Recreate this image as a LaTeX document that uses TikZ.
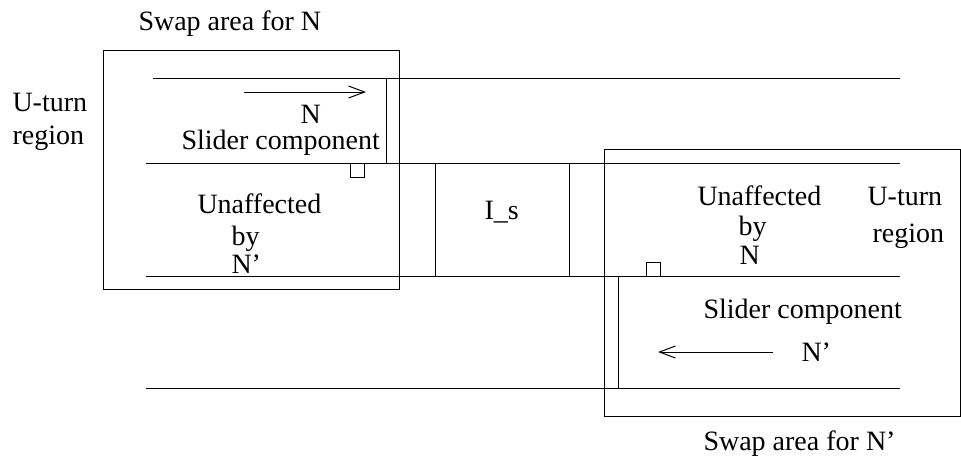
\documentclass[tikz,border=0pt]{standalone}
\usepackage{fontspec}
\setmainfont{Liberation Serif}
\usetikzlibrary{arrows.meta}

\begin{document}
\begin{tikzpicture}[x=0.5pt,y=-0.5pt,line width=0.5pt,
    lbl/.style={anchor=base west,inner sep=0pt,font=\fontsize{14}{16}\selectfont},
    move/.style={-{Straight Barb[length=8pt,width=6pt]}}]
  \useasboundingbox (0,0) rectangle (961,468);

  % the two swap areas
  \draw (103,50) rectangle (399,289);
  \draw (604,149) rectangle (960.5,416);

  % lanes
  \draw (153,78) -- (900,78);
  \draw (146,163) -- (900,163);
  \draw (146,276) -- (900,276);
  \draw (146,388) -- (900,388);

  % separators
  \draw (386,78) -- (386,163);
  \draw (435,163) -- (435,276);
  \draw (569,163) -- (569,276);
  \draw (618,276) -- (618,388);

  % small markers
  \draw (350,163) rectangle (364,177);
  \draw (646,262) rectangle (660,276);

  % labels
  \node[lbl] (swapN)  at (138,30)  {Swap area for N};
  \node[lbl] (uturnL) at (12,111)  {U-turn};
  \node[lbl] (regL)   at (12,144)  {region};
  \node[lbl] (nL)     at (300,123) {N};
  \node[lbl] (sliderL) at (181,149) {Slider component};
  \node[lbl] (unaffL) at (197,213) {Unaffected};
  \node[lbl] (byL)    at (231,245) {by};
  \node[lbl] (npL)    at (231,273) {N'};
  \node[lbl] (is)     at (484,219) {I\_s};
  \node[lbl] (unaffR) at (697,205) {Unaffected};
  \node[lbl] (byR)    at (738,235) {by};
  \node[lbl] (nR)     at (739,264) {N};
  \node[lbl] (uturnR) at (867,205) {U-turn};
  \node[lbl] (regR)   at (872,242) {region};
  \node[lbl] (sliderR) at (703,318) {Slider component};
  \node[lbl] (npR)    at (801,361) {N'};
  \node[lbl] (swapNp) at (703,450) {Swap area for N'};

  % direction of the sliders
  \coordinate (aL1) at (244,92);
  \coordinate (aL2) at (366,92);
  \coordinate (aR1) at (773,352);
  \coordinate (aR2) at (658,352);
  \draw[move] (aL1) -- (aL2);
  \draw[move] (aR1) -- (aR2);
\end{tikzpicture}
\end{document}
